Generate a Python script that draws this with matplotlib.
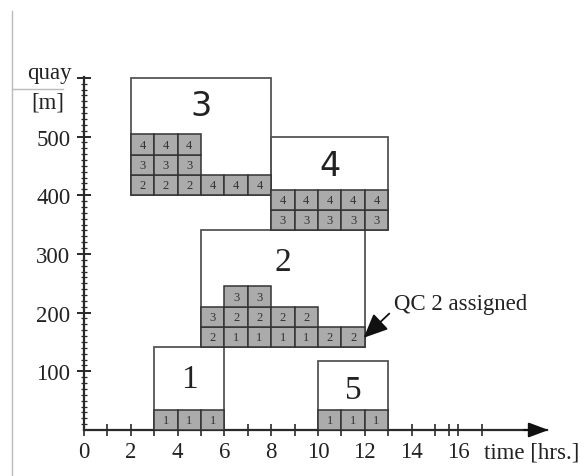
import numpy as np
import matplotlib.pyplot as plt
from matplotlib.lines import Line2D

plt.rcParams['font.family'] = ['Liberation Serif', 'DejaVu Serif']

# vessel boxes: time window and quay section
vessels = ['1', '2', '3', '4', '5']
box_start = [3, 5, 2, 8, 10]
box_end = [6, 12, 8, 13, 13]
box_low = [0, 141, 400, 340, 0]
box_high = [141, 340, 600, 500, 118]
label_x = [4.5, 8.5, 5.0, 10.5, 11.5]
label_y = [88, 287, 552, 450, 68]

# quay crane assignment per vessel, one list per row (0 = no crane)
qc_rows = {
    '1': [[1, 1, 1]],
    '2': [[2, 1, 1, 1, 1, 2, 2], [3, 2, 2, 2, 2], [0, 3, 3]],
    '3': [[2, 2, 2, 4, 4, 4], [3, 3, 3], [4, 4, 4]],
    '4': [[3, 3, 3, 3, 3], [4, 4, 4, 4, 4]],
    '5': [[1, 1, 1]],
}
row_h = 34.5

xtick_major = [0, 2, 4, 6, 8, 10, 12, 14, 16]
xtick_minor = [1, 3, 5, 7, 9, 11, 13, 15, 15.6, 17]
ytick_major = [100, 200, 300, 400, 500, 600]
ytick_labels = ['100', '200', '300', '400', '500', '']

W, H = 586, 477
fig = plt.figure(figsize=(W / 100, H / 100), dpi=100)
x0, y0 = 84, 431          # pixel position of origin
px_x, px_y = 23.4, 0.587  # pixels per hour / per metre
xmax, ymax = 19.8, 601
ax = fig.add_axes([x0 / W, (H - y0) / H, xmax * px_x / W, ymax * px_y / H])
ax.set_xlim(0, xmax)
ax.set_ylim(0, ymax)

edge = '#2a2a2a'
for s in ['top', 'right']:
    ax.spines[s].set_visible(False)
for s in ['left', 'bottom']:
    ax.spines[s].set_color(edge)
    ax.spines[s].set_linewidth(1.6)
ax.patch.set_alpha(0)

# vessel boxes
for i, v in enumerate(vessels):
    ax.bar(box_start[i], box_high[i] - box_low[i], bottom=box_low[i],
           width=box_end[i] - box_start[i], align='edge', fill=False,
           edgecolor='#555555', linewidth=1.3, zorder=2)
    fam = ['DejaVu Sans'] if v in ('3', '4') else ['Liberation Serif']
    ax.text(label_x[i], label_y[i], v, ha='center', va='center',
            fontsize=24, family=fam, color='#222222', zorder=4)

# crane cells
for i, v in enumerate(vessels):
    for r, row in enumerate(qc_rows[v]):
        for c, qc in enumerate(row):
            if qc == 0:
                continue
            xs = box_start[i] + c
            ys = box_low[i] + r * row_h
            ax.bar(xs, row_h, bottom=ys, width=1, align='edge',
                   color='#ababab', edgecolor='#333333', linewidth=1.1, zorder=3)
            ax.text(xs + 0.5, ys + row_h / 2, str(qc), ha='center', va='center',
                    fontsize=9, color='#333333', zorder=4)

ax.annotate('QC 2 assigned', xy=(11.95, 157), xytext=(13.25, 215),
            ha='left', va='center', fontsize=16.5, color='#222222',
            arrowprops=dict(arrowstyle='-|>,head_length=0.9,head_width=0.4',
                            color='#111111', lw=1.3, relpos=(0, 0.25),
                            shrinkA=2, shrinkB=0),
            zorder=5)

# ticks
ax.set_xticks(xtick_major)
ax.set_xticklabels([str(t) for t in xtick_major])
ax.set_xticks(xtick_minor, minor=True)
ax.set_yticks(ytick_major)
ax.set_yticklabels(ytick_labels)
ax.set_yticks(np.arange(10, 600, 10), minor=True)
ax.tick_params(axis='x', which='both', direction='inout', length=8, width=1.2,
               color=edge, labelsize=16.5, pad=4, labelcolor='#222222')
ax.tick_params(axis='y', which='major', direction='inout', length=9.5, width=1.4,
               color=edge, labelsize=16.5, pad=5, labelcolor='#222222')
ax.tick_params(axis='y', which='minor', direction='inout', length=4.5, width=0.9,
               color=edge)

# arrow head on time axis
ax.annotate('', xy=(xmax + 0.05, 0), xytext=(xmax - 1.0, 0),
            arrowprops=dict(arrowstyle='-|>,head_length=1.2,head_width=0.45',
                            color='#111111', lw=1.5, shrinkA=0, shrinkB=0),
            annotation_clip=False)

fig.text(72 / W, 1 - 73 / H, 'quay', ha='right', va='center', fontsize=16.5, color='#222222')
fig.text(64 / W, 1 - 103 / H, '[m]', ha='right', va='center', fontsize=16.5, color='#222222')
fig.text(484 / W, 1 - 453 / H, 'time [hrs.]', ha='left', va='center', fontsize=16.5, color='#222222')

# page border remnants
fig.add_artist(Line2D([12 / W, 12 / W], [1 - 12 / H, 0], color='#bbbbbb', lw=1.0))
fig.add_artist(Line2D([12 / W, 63 / W], [1 - 90 / H, 1 - 90 / H], color='#bbbbbb', lw=1.0))

fig.savefig('out.png', dpi=100)
